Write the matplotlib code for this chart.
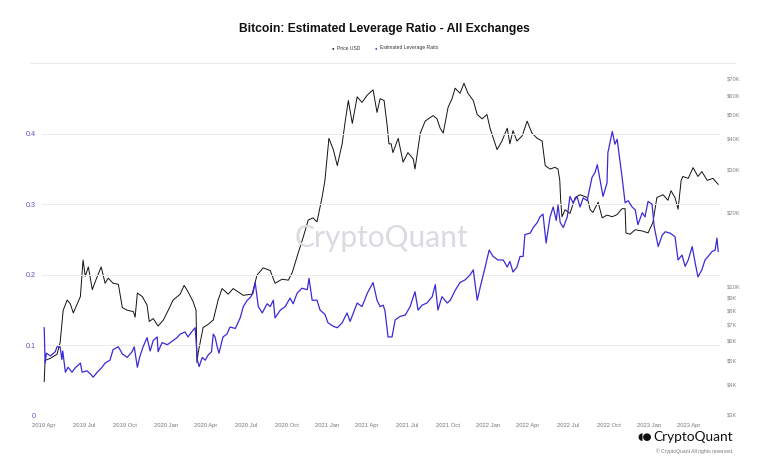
import matplotlib
matplotlib.use("Agg")
import matplotlib.pyplot as plt
import matplotlib.dates as mdates
from matplotlib.lines import Line2D
import pandas as pd

plt.rcParams['font.family'] = ['Liberation Sans', 'DejaVu Sans']

# --- data ---
price_dates = [
    "2019-04-01", "2019-04-03", "2019-04-15", "2019-04-30", "2019-05-07", "2019-05-14",
    "2019-05-23", "2019-05-30", "2019-06-06", "2019-06-22", "2019-06-28", "2019-07-03",
    "2019-07-10", "2019-07-19", "2019-07-26", "2019-08-08", "2019-08-17", "2019-08-24",
    "2019-09-04", "2019-09-16", "2019-09-25", "2019-10-06", "2019-10-20", "2019-10-24",
    "2019-10-29", "2019-11-09", "2019-11-20", "2019-11-25", "2019-12-04", "2019-12-15",
    "2019-12-27", "2020-01-07", "2020-01-18", "2020-02-03", "2020-02-12", "2020-02-21",
    "2020-03-03", "2020-03-10", "2020-03-12", "2020-03-15", "2020-03-26", "2020-04-06",
    "2020-04-18", "2020-04-29", "2020-05-08", "2020-05-22", "2020-06-02", "2020-06-25",
    "2020-07-15", "2020-07-26", "2020-08-09", "2020-08-25", "2020-09-05", "2020-09-21",
    "2020-10-05", "2020-10-14", "2020-10-27", "2020-11-08", "2020-11-19", "2020-11-30",
    "2020-12-09", "2020-12-21", "2020-12-27", "2021-01-05", "2021-01-15", "2021-01-24",
    "2021-02-04", "2021-02-11", "2021-02-18", "2021-02-27", "2021-03-10", "2021-03-21",
    "2021-04-02", "2021-04-15", "2021-04-24", "2021-05-01", "2021-05-10", "2021-05-17",
    "2021-05-21", "2021-05-26", "2021-05-30", "2021-06-11", "2021-06-22", "2021-07-03",
    "2021-07-15", "2021-07-19", "2021-07-31", "2021-08-11", "2021-08-29", "2021-09-07",
    "2021-09-14", "2021-09-21", "2021-10-02", "2021-10-11", "2021-10-18", "2021-10-29",
    "2021-11-07", "2021-11-16", "2021-11-28", "2021-12-07", "2021-12-18", "2021-12-29",
    "2022-01-05", "2022-01-21", "2022-02-01", "2022-02-13", "2022-02-19", "2022-02-26",
    "2022-03-07", "2022-03-19", "2022-03-30", "2022-04-10", "2022-04-22", "2022-05-03",
    "2022-05-10", "2022-05-21", "2022-06-01", "2022-06-08", "2022-06-12", "2022-06-14",
    "2022-06-17", "2022-06-24", "2022-07-05", "2022-07-17", "2022-07-28", "2022-08-13",
    "2022-08-20", "2022-08-26", "2022-09-07", "2022-09-16", "2022-09-27", "2022-10-09",
    "2022-10-20", "2022-10-31", "2022-11-07", "2022-11-09", "2022-11-18", "2022-11-30",
    "2022-12-16", "2022-12-29", "2023-01-09", "2023-01-18", "2023-02-01", "2023-02-12",
    "2023-02-19", "2023-02-28", "2023-03-07", "2023-03-14", "2023-03-18", "2023-03-30",
    "2023-04-10", "2023-04-21", "2023-04-30", "2023-05-12", "2023-05-25", "2023-06-06",
]
price_usd = [
    4100, 5000, 5100, 5300, 5900, 8000,
    8800, 8500, 7800, 9100, 12800, 11000,
    12000, 9700, 10500, 12000, 10300, 10800,
    10300, 10200, 8200, 8000, 7900, 7500,
    9400, 9100, 8400, 7200, 7400, 6900,
    7300, 8000, 8800, 9300, 10100, 9500,
    8700, 8000, 4900, 5400, 6800, 7000,
    7300, 8800, 9800, 9300, 9800, 9200,
    9300, 11100, 11900, 11600, 10300, 10700,
    10600, 11400, 13600, 15900, 18600, 19000,
    18300, 23300, 27000, 40000, 36000, 31000,
    38000, 47000, 57000, 46000, 59000, 56000,
    60000, 63000, 51000, 58000, 57000, 45000,
    38000, 38000, 35000, 40000, 32000, 35000,
    33000, 30000, 42000, 47000, 49500, 48000,
    44000, 42000, 53500, 58000, 64000, 61000,
    67000, 61000, 57000, 50000, 48000, 50000,
    44000, 36000, 39000, 44000, 38000, 43000,
    39000, 41000, 47000, 42000, 40000, 39000,
    31000, 30000, 30500, 30000, 27000, 22500,
    19200, 20500, 19800, 23000, 23600, 23000,
    20500, 20000, 22000, 19000, 19500, 19200,
    19600, 20700, 20700, 16500, 16300, 17000,
    16800, 16500, 18200, 23000, 23600, 22400,
    24500, 23000, 20600, 27000, 28000, 27500,
    30400, 28000, 29300, 27000, 27500, 26000,
]

lev_dates = [
    "2019-04-01", "2019-04-03", "2019-04-06", "2019-04-15", "2019-04-26", "2019-04-30",
    "2019-05-07", "2019-05-11", "2019-05-13", "2019-05-19", "2019-05-25", "2019-06-03",
    "2019-06-10", "2019-06-22", "2019-06-26", "2019-07-07", "2019-07-14", "2019-07-21",
    "2019-07-30", "2019-08-10", "2019-08-17", "2019-08-28", "2019-09-04", "2019-09-16",
    "2019-09-25", "2019-10-06", "2019-10-17", "2019-10-22", "2019-10-29", "2019-11-04",
    "2019-11-11", "2019-11-20", "2019-11-27", "2019-12-04", "2019-12-13", "2019-12-15",
    "2019-12-24", "2020-01-05", "2020-01-16", "2020-01-27", "2020-02-03", "2020-02-14",
    "2020-02-21", "2020-03-01", "2020-03-08", "2020-03-13", "2020-03-17", "2020-03-24",
    "2020-03-31", "2020-04-06", "2020-04-14", "2020-04-18", "2020-04-22", "2020-04-27",
    "2020-05-01", "2020-05-10", "2020-05-19", "2020-05-26", "2020-06-07", "2020-06-18",
    "2020-06-25", "2020-07-04", "2020-07-11", "2020-07-17", "2020-07-22", "2020-07-29",
    "2020-08-07", "2020-08-18", "2020-08-25", "2020-09-01", "2020-09-05", "2020-09-17",
    "2020-09-28", "2020-10-09", "2020-10-16", "2020-10-25", "2020-11-05", "2020-11-17",
    "2020-11-21", "2020-11-28", "2020-12-09", "2020-12-16", "2020-12-27", "2021-01-03",
    "2021-01-15", "2021-01-24", "2021-02-04", "2021-02-15", "2021-02-22", "2021-03-10",
    "2021-03-21", "2021-04-02", "2021-04-15", "2021-04-24", "2021-05-01", "2021-05-08",
    "2021-05-12", "2021-05-19", "2021-05-28", "2021-06-04", "2021-06-15", "2021-06-27",
    "2021-07-08", "2021-07-19", "2021-07-26", "2021-08-04", "2021-08-15", "2021-08-27",
    "2021-09-03", "2021-09-09", "2021-09-18", "2021-09-30", "2021-10-07", "2021-10-18",
    "2021-10-29", "2021-11-10", "2021-11-21", "2021-11-28", "2021-12-07", "2021-12-14",
    "2021-12-25", "2022-01-03", "2022-01-12", "2022-01-23", "2022-02-04", "2022-02-13",
    "2022-02-19", "2022-02-26", "2022-03-07", "2022-03-14", "2022-03-21", "2022-03-25",
    "2022-04-06", "2022-04-13", "2022-04-22", "2022-04-28", "2022-05-05", "2022-05-12",
    "2022-05-21", "2022-05-28", "2022-06-04", "2022-06-08", "2022-06-13", "2022-06-20",
    "2022-06-29", "2022-07-05", "2022-07-12", "2022-07-21", "2022-07-28", "2022-08-04",
    "2022-08-13", "2022-08-24", "2022-08-31", "2022-09-05", "2022-09-11", "2022-09-18",
    "2022-09-27", "2022-09-29", "2022-10-09", "2022-10-15", "2022-10-20", "2022-10-24",
    "2022-10-31", "2022-11-07", "2022-11-14", "2022-11-23", "2022-11-30", "2022-12-06",
    "2022-12-16", "2022-12-22", "2022-12-29", "2023-01-07", "2023-01-12", "2023-01-21",
    "2023-01-30", "2023-02-06", "2023-02-17", "2023-02-28", "2023-03-07", "2023-03-16",
    "2023-03-23", "2023-03-30", "2023-04-08", "2023-04-15", "2023-04-21", "2023-04-30",
    "2023-05-07", "2023-05-14", "2023-05-23", "2023-05-30", "2023-06-03", "2023-06-06",
]
leverage_ratio = [
    0.125, 0.075, 0.089, 0.085, 0.091, 0.098,
    0.098, 0.080, 0.092, 0.062, 0.069, 0.062,
    0.068, 0.075, 0.062, 0.064, 0.060, 0.055,
    0.062, 0.069, 0.075, 0.079, 0.094, 0.098,
    0.088, 0.083, 0.091, 0.098, 0.069, 0.085,
    0.098, 0.111, 0.092, 0.107, 0.112, 0.091,
    0.104, 0.101, 0.106, 0.111, 0.116, 0.119,
    0.112, 0.120, 0.125, 0.079, 0.070, 0.083,
    0.079, 0.086, 0.091, 0.116, 0.112, 0.098,
    0.089, 0.112, 0.116, 0.126, 0.124, 0.139,
    0.155, 0.164, 0.168, 0.174, 0.189, 0.155,
    0.146, 0.159, 0.155, 0.164, 0.139, 0.150,
    0.155, 0.167, 0.159, 0.174, 0.181, 0.179,
    0.195, 0.164, 0.164, 0.150, 0.144, 0.132,
    0.127, 0.125, 0.132, 0.146, 0.134, 0.160,
    0.155, 0.174, 0.189, 0.164, 0.155, 0.157,
    0.149, 0.112, 0.112, 0.136, 0.141, 0.143,
    0.155, 0.176, 0.150, 0.157, 0.160, 0.169,
    0.186, 0.150, 0.169, 0.160, 0.164, 0.178,
    0.189, 0.193, 0.200, 0.207, 0.164, 0.183,
    0.211, 0.235, 0.226, 0.221, 0.221, 0.211,
    0.219, 0.204, 0.211, 0.226, 0.226, 0.257,
    0.259, 0.267, 0.274, 0.282, 0.286, 0.245,
    0.282, 0.296, 0.277, 0.299, 0.274, 0.267,
    0.282, 0.311, 0.302, 0.311, 0.296, 0.309,
    0.305, 0.338, 0.345, 0.356, 0.335, 0.311,
    0.330, 0.373, 0.403, 0.385, 0.392, 0.373,
    0.339, 0.302, 0.305, 0.296, 0.292, 0.271,
    0.288, 0.282, 0.304, 0.300, 0.268, 0.240,
    0.256, 0.261, 0.259, 0.254, 0.221, 0.228,
    0.212, 0.221, 0.240, 0.216, 0.197, 0.207,
    0.221, 0.226, 0.233, 0.235, 0.252, 0.233,
]

left_ticks = [0, 0.1, 0.2, 0.3, 0.4]
left_labels = ["0", "0.1", "0.2", "0.3", "0.4"]
right_ticks = [3000, 4000, 5000, 6000, 7000, 8000, 9000, 10000,
               20000, 30000, 40000, 50000, 60000, 70000]
right_labels = ["$3K", "$4K", "$5K", "$6K", "$7K", "$8K", "$9K", "$10K",
                "$20K", "$30K", "$40K", "$50K", "$60K", "$70K"]

price = pd.Series(price_usd, index=pd.to_datetime(price_dates))
lev = pd.Series(leverage_ratio, index=pd.to_datetime(lev_dates))

BLUE = '#3b2bd6'
W, H = 768, 463
fig = plt.figure(figsize=(W / 100, H / 100), dpi=100)
fig.patch.set_facecolor('white')

ax = fig.add_axes([42 / W, 1 - 416 / H, (720 - 42) / W, (416 - 63) / H])
ax2 = ax.twinx()

ax2.plot(price.index, price.values, color='#111111', lw=0.7)
ax.plot(lev.index, lev.values, color=BLUE, lw=0.9)

ax.set_zorder(ax2.get_zorder() + 1)
ax.patch.set_visible(False)

ax.set_ylim(0, 0.5)
ax.set_yticks(left_ticks)
ax.set_yticklabels(left_labels)
ax.grid(True, axis='y', color='#ebebeb', lw=0.7)
ax.set_axisbelow(True)

ax2.set_yscale('log')
ax2.set_ylim(2972, 81000)
ax2.set_yticks(right_ticks)
ax2.set_yticklabels(right_labels)
ax2.minorticks_off()

ax.set_xlim(pd.Timestamp("2019-03-27"), pd.Timestamp("2023-06-10"))
ax.xaxis.set_major_locator(mdates.MonthLocator(bymonth=[1, 4, 7, 10]))
ax.xaxis.set_major_formatter(mdates.DateFormatter('%Y %b'))

for a in (ax, ax2):
    for s in a.spines.values():
        s.set_visible(False)
ax.tick_params(axis='x', length=0, labelsize=4.2, colors='#777777', pad=5)
ax.tick_params(axis='y', length=0, labelsize=5.2, colors='#5a55c8', pad=4.5)
ax2.tick_params(axis='y', length=0, labelsize=4.2, colors='#888888', pad=5)

# top separator line
fig.add_artist(Line2D([30 / W, 735 / W], [1 - 63 / H, 1 - 63 / H],
                      color='#ececec', lw=0.8))

# title and legend
fig.text(384 / W, 1 - 29 / H, 'Bitcoin: Estimated Leverage Ratio - All Exchanges',
         ha='center', va='center', fontsize=8.7, fontweight='bold', color='#111111')
fig.text(333 / W, 1 - 48 / H, '\u25cf', ha='center', va='center', fontsize=3, color='#111111')
fig.text(337 / W, 1 - 48 / H, 'Price USD', ha='left', va='center', fontsize=3.6, color='#333333')
fig.text(376 / W, 1 - 48 / H, '\u25cf', ha='center', va='center', fontsize=3, color=BLUE)
fig.text(380 / W, 1 - 48 / H, 'Estimated Leverage Ratio', ha='left', va='center',
         fontsize=3.6, color='#333333')

# watermark
fig.text(381 / W, 1 - 238 / H, 'CryptoQuant', ha='center', va='center', fontsize=21.5,
         color='#dadae0', family=['Lato', 'DejaVu Sans'], zorder=0)

# logo bottom right
fig.text(645 / W, 1 - 437 / H, '\u25d6\u25cf', ha='center', va='center', fontsize=7.5,
         color='#111111', family=['DejaVu Sans'])
fig.text(733 / W, 1 - 437 / H, 'CryptoQuant', ha='right', va='center', fontsize=9.8,
         color='#111111', family=['Lato', 'DejaVu Sans'])
fig.text(733 / W, 1 - 451 / H, '\u00a9 CryptoQuant All rights reserved.', ha='right',
         va='center', fontsize=3.6, color='#777777')

fig.savefig('out.png', dpi=100, facecolor='white')
